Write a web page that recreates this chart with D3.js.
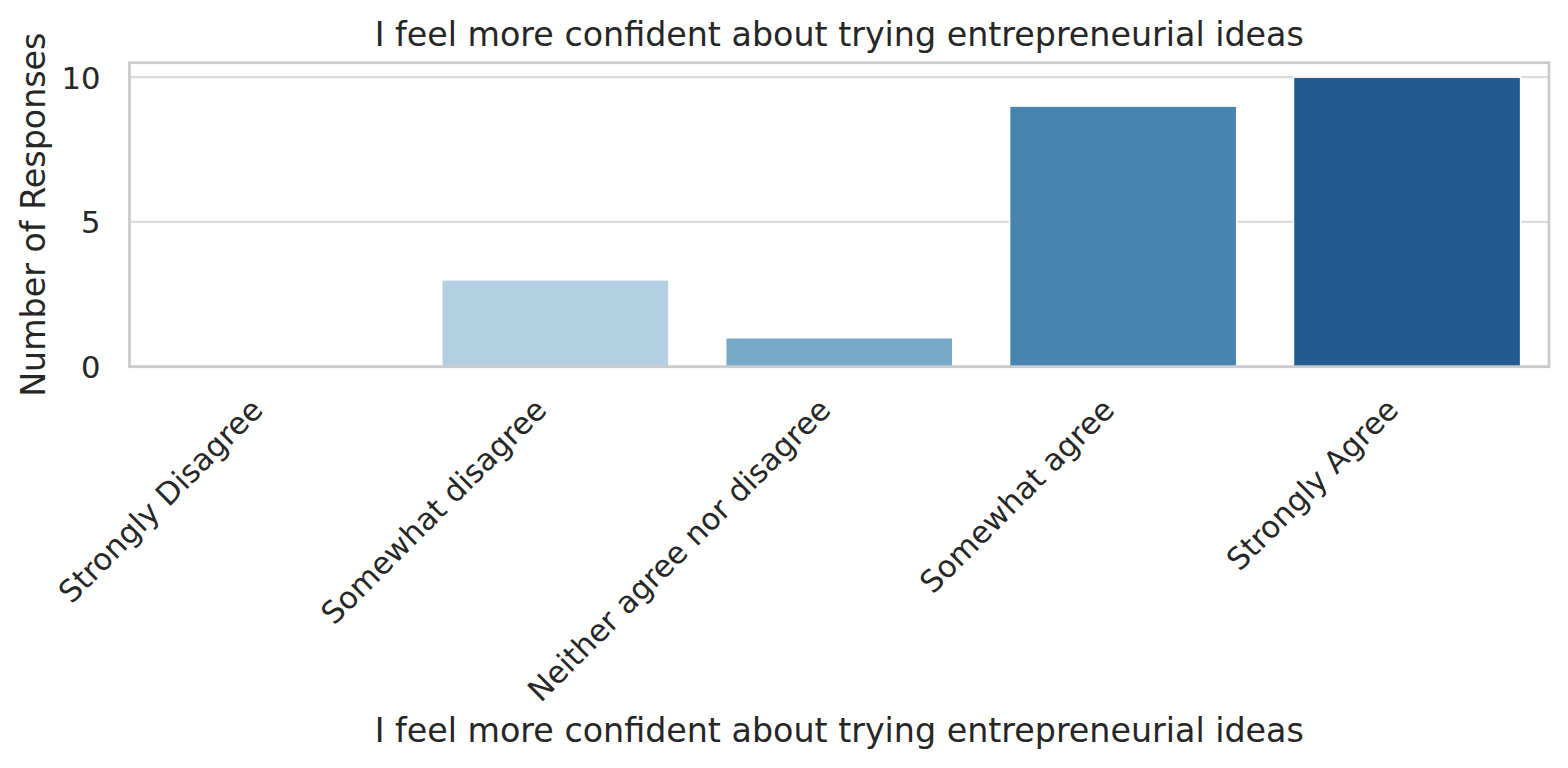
<!DOCTYPE html>
<html>
<head>
<meta charset="utf-8">
<script src="https://cdn.jsdelivr.net/npm/d3@7"></script>
<style>
  html, body { margin: 0; padding: 0; background: #fff; }
  svg text { font-family: "DejaVu Sans", sans-serif; fill: #262626; }
</style>
</head>
<body>
<svg id="chart" width="1568" height="768"></svg>
<script>
// survey answers, in scale order
const categories = ["Strongly Disagree", "Somewhat disagree", "Neither agree nor disagree", "Somewhat agree", "Strongly Agree"];
const responses = [0, 3, 1, 9, 10];
const barColors = ["#d2e1ec", "#b4cfe1", "#78a9c9", "#4884b0", "#235b90"];
const yTicks = [0, 5, 10];
const chartTitle = "I feel more confident about trying entrepreneurial ideas";

const width = 1568, height = 768;
const margin = { top: 62.7, right: 19, bottom: 401.3, left: 129.5 };
const innerW = width - margin.left - margin.right;
const innerH = height - margin.top - margin.bottom;

const svg = d3.select("#chart");
const g = svg.append("g").attr("transform", `translate(${margin.left},${margin.top})`);

const x = d3.scaleBand().domain(categories).range([0, innerW]).paddingInner(0.2).paddingOuter(0.1);
const y = d3.scaleLinear().domain([0, 10.5]).range([innerH, 0]);

// grid
g.append("g").selectAll("line").data(yTicks).enter().append("line")
    .attr("x1", 0).attr("x2", innerW)
    .attr("y1", d => y(d)).attr("y2", d => y(d))
    .attr("stroke", "#dcdcdc").attr("stroke-width", 2.2);

// bars
g.append("g").selectAll("rect").data(categories).enter().append("rect")
    .attr("x", d => x(d))
    .attr("y", (d, i) => y(responses[i]))
    .attr("width", x.bandwidth())
    .attr("height", (d, i) => innerH - y(responses[i]))
    .attr("fill", (d, i) => barColors[i])
    .attr("stroke", "#fff").attr("stroke-width", 1.5);

// frame
g.append("rect").attr("x", 0).attr("y", 0).attr("width", innerW).attr("height", innerH)
    .attr("fill", "none").attr("stroke", "#cccccc").attr("stroke-width", 2.8);

// y axis
const yAxis = g.append("g").call(d3.axisLeft(y).tickValues(yTicks).tickSize(0).tickPadding(29));
yAxis.select(".domain").remove();
yAxis.selectAll("text").style("font-size", "30.6px").attr("fill", "#262626").attr("dy", "0.36em");

// x axis, labels rotated 45deg, ending just left of the tick
const xAxis = g.append("g").attr("transform", `translate(0,${innerH})`)
    .call(d3.axisBottom(x).tickSize(0).tickPadding(0));
xAxis.select(".domain").remove();
xAxis.selectAll("text")
    .style("font-size", "30.6px").attr("fill", "#262626")
    .attr("text-anchor", "end")
    .attr("y", 0).attr("dy", 0)
    .attr("transform", "translate(-7,45) rotate(-45)");

// titles
svg.append("text").attr("x", margin.left + innerW / 2).attr("y", 45.5)
    .attr("text-anchor", "middle").style("font-size", "33.3px").text(chartTitle);
svg.append("text").attr("x", margin.left + innerW / 2).attr("y", 741.5)
    .attr("text-anchor", "middle").style("font-size", "33.3px").text(chartTitle);
svg.append("text")
    .attr("transform", `translate(45,${margin.top + innerH / 2}) rotate(-90)`)
    .attr("text-anchor", "middle").style("font-size", "33.3px").text("Number of Responses");
</script>
</body>
</html>
